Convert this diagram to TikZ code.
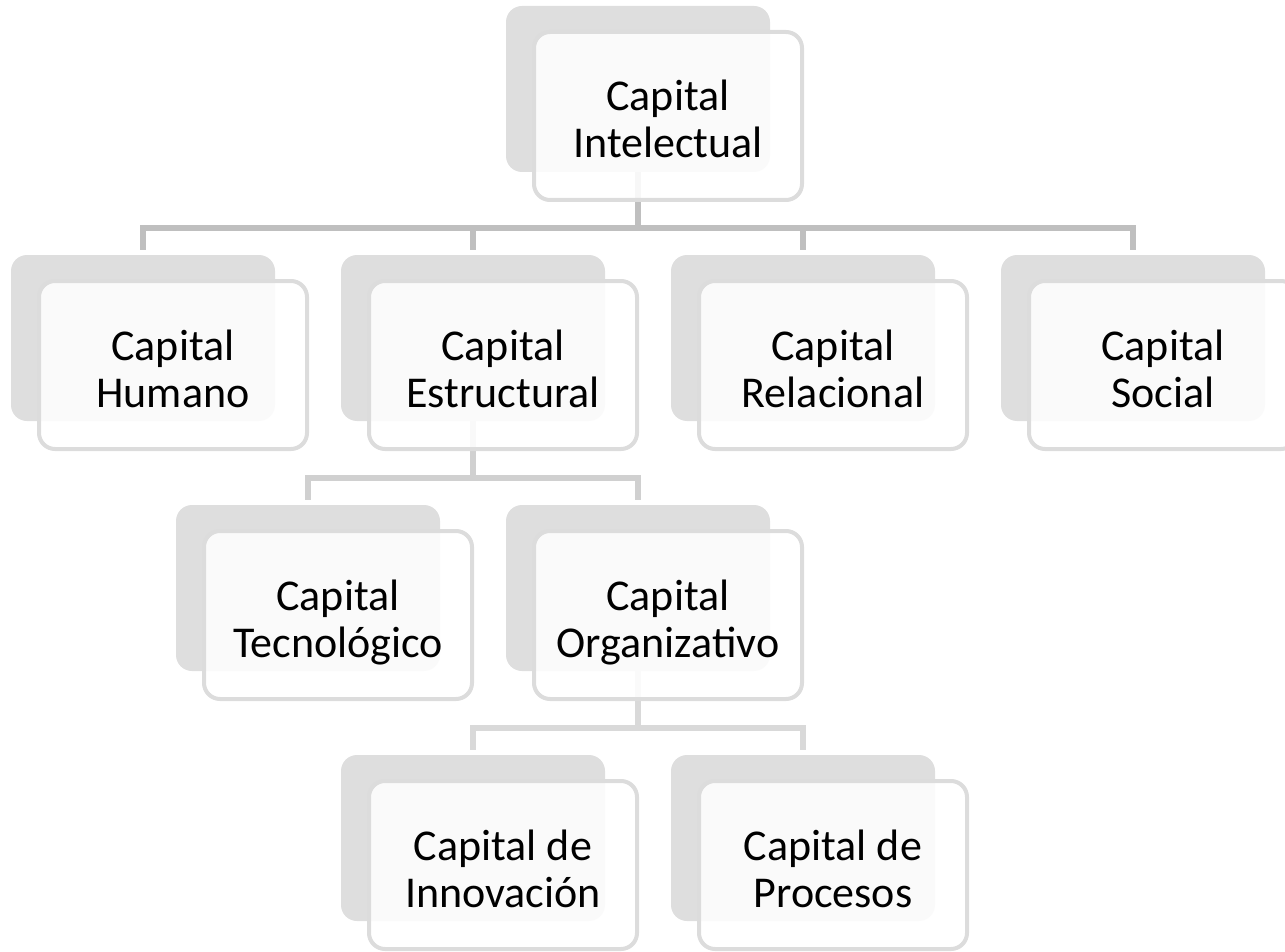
\documentclass[tikz,border=0pt]{standalone}
\usepackage{fontspec}
\setmainfont{Carlito}
\definecolor{backgray}{HTML}{DEDEDE}
\definecolor{frontline}{HTML}{DCDCDC}
\definecolor{conna}{HTML}{BFBFBF}
\definecolor{connb}{HTML}{D0D0D0}
\definecolor{connc}{HTML}{D9D9D9}
\newcommand{\mytopstrut}{\rule{0pt}{37pt}}
\begin{document}
\begin{tikzpicture}[x=1pt,y=-1pt,
 backbox/.style={rectangle, rounded corners=16pt, fill=backgray, minimum width=264pt, minimum height=166pt, inner sep=0pt, outer sep=0pt},
 frontbox/.style={rectangle, rounded corners=16pt, draw=frontline, line width=4pt, fill=white, fill opacity=0.88, text opacity=1, minimum width=268pt, minimum height=168pt, inner sep=0pt, outer sep=0pt, align=center, text depth=0pt, font=\fontsize{44}{47}\selectfont},
 conn/.style={line width=6pt, line join=miter}
]
\useasboundingbox (0,0) rectangle (1285,952);
\clip (0,0) rectangle (1285,952);
% back boxes (positions only, filled later)
\path (638,89) node[backbox, fill=none] (ib) {};
\path (143,338) node[backbox, fill=none] (hb) {};
\path (473,338) node[backbox, fill=none] (eb) {};
\path (803,338) node[backbox, fill=none] (rb) {};
\path (1133,338) node[backbox, fill=none] (sb) {};
\path (308,588) node[backbox, fill=none] (tb) {};
\path (638,588) node[backbox, fill=none] (ob) {};
\path (473,838) node[backbox, fill=none] (nb) {};
\path (803,838) node[backbox, fill=none] (pb) {};
% connectors
\draw[conn, conna] (ib.south) -- ++(0,56) -| ([yshift=5pt]hb.north);
\draw[conn, conna] (ib.south) -- ++(0,56) -| ([yshift=5pt]eb.north);
\draw[conn, conna] (ib.south) -- ++(0,56) -| ([yshift=5pt]rb.north);
\draw[conn, conna] (ib.south) -- ++(0,56) -| ([yshift=5pt]sb.north);
\draw[conn, connb] (eb.south) -- ++(0,57) -| ([yshift=5pt]tb.north);
\draw[conn, connb] (eb.south) -- ++(0,57) -| ([yshift=5pt]ob.north);
\draw[conn, connc] (ob.south) -- ++(0,57) -| ([yshift=5pt]nb.north);
\draw[conn, connc] (ob.south) -- ++(0,57) -| ([yshift=5pt]pb.north);
% boxes
\fill[backgray, rounded corners=16pt] (ib.north west) rectangle (ib.south east);
\node[frontbox] (i) at (668,116) {\mytopstrut Capital\\Intelectual};
\fill[backgray, rounded corners=16pt] (hb.north west) rectangle (hb.south east);
\node[frontbox] (h) at (173,365) {\mytopstrut Capital\\Humano};
\fill[backgray, rounded corners=16pt] (eb.north west) rectangle (eb.south east);
\node[frontbox] (e) at (503,365) {\mytopstrut Capital\\Estructural};
\fill[backgray, rounded corners=16pt] (rb.north west) rectangle (rb.south east);
\node[frontbox] (r) at (833,365) {\mytopstrut Capital\\Relacional};
\fill[backgray, rounded corners=16pt] (sb.north west) rectangle (sb.south east);
\node[frontbox] (s) at (1163,365) {\mytopstrut Capital\\Social};
\fill[backgray, rounded corners=16pt] (tb.north west) rectangle (tb.south east);
\node[frontbox] (t) at (338,615) {\mytopstrut Capital\\Tecnológico};
\fill[backgray, rounded corners=16pt] (ob.north west) rectangle (ob.south east);
\node[frontbox] (o) at (668,615) {\mytopstrut Capital\\Organizativo};
\fill[backgray, rounded corners=16pt] (nb.north west) rectangle (nb.south east);
\node[frontbox] (n) at (503,865) {\mytopstrut Capital de\\Innovación};
\fill[backgray, rounded corners=16pt] (pb.north west) rectangle (pb.south east);
\node[frontbox] (p) at (833,865) {\mytopstrut Capital de\\Procesos};
\end{tikzpicture}
\end{document}
